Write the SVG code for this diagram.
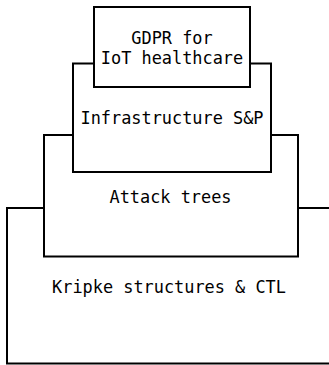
<svg xmlns="http://www.w3.org/2000/svg" width="329" height="365" viewBox="0 0 329 365">
  <style>
    .box { fill: #ffffff; stroke: #000000; stroke-width: 2; }
    .label { font-family: "DejaVu Sans Mono", monospace; font-size: 16.9px; fill: #000000; text-anchor: middle; }
  </style>
  <rect width="329" height="365" fill="#ffffff"/>
  <g id="connectors"/>
  <!-- nested layers, drawn from the widest base up to the top layer -->
  <g id="kripke">
    <rect class="box" x="7" y="208" width="340" height="155.5"/>
    <text class="label" x="169" y="293">Kripke structures &amp; CTL</text>
  </g>
  <g id="attack-trees">
    <rect class="box" x="44" y="135" width="254" height="121.5"/>
    <text class="label" x="170.5" y="203">Attack trees</text>
  </g>
  <g id="infrastructure">
    <rect class="box" x="73" y="63.5" width="198" height="108.5"/>
    <text class="label" x="172" y="124">Infrastructure S&amp;P</text>
  </g>
  <g id="gdpr">
    <rect class="box" x="94" y="7" width="156" height="80"/>
    <text class="label" x="172" y="43.5">GDPR for</text>
    <text class="label" x="172" y="63.5">IoT healthcare</text>
  </g>
</svg>
